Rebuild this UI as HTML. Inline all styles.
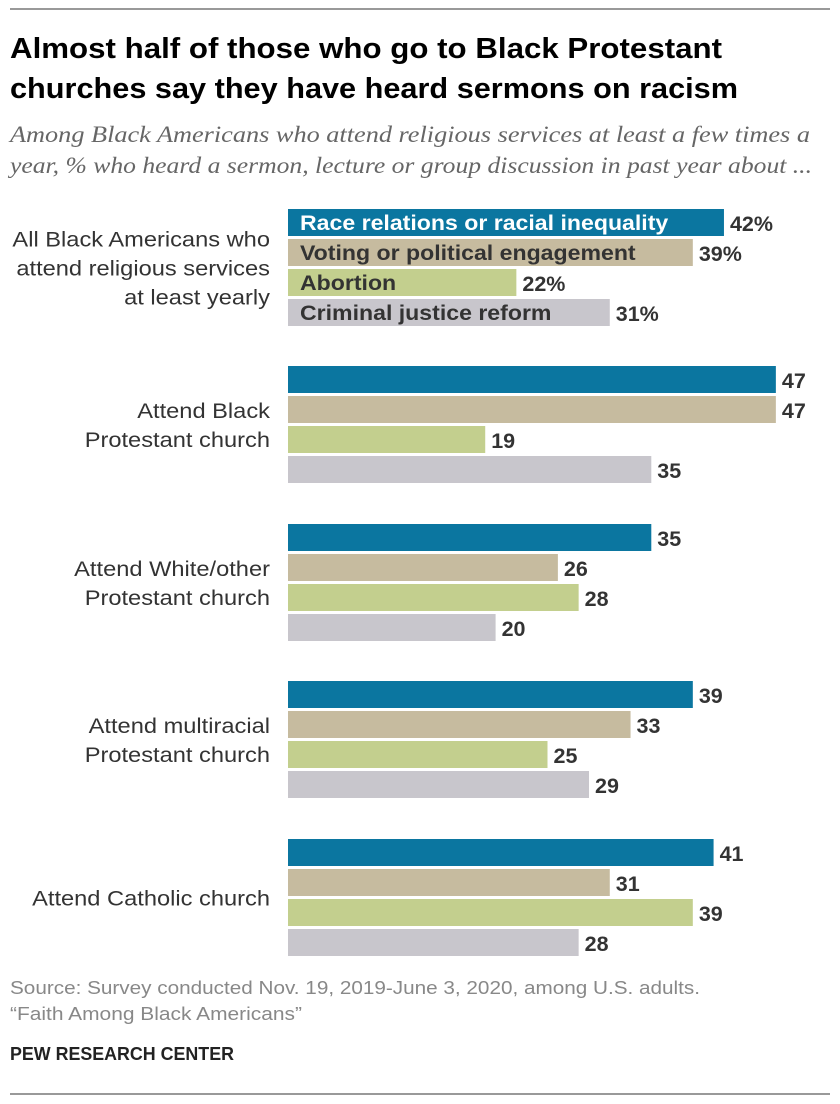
<!DOCTYPE html>
<html><head><meta charset="utf-8"><style>
body{margin:0;background:#fff;width:840px;height:1104px;overflow:hidden;font-family:"Liberation Sans",sans-serif;position:relative}
.t{position:absolute;left:0;top:0}
</style></head><body>
<svg width="840" height="1104" class="t" id="svg">
<line x1="10" y1="9" x2="830" y2="9" stroke="#333" stroke-width="1"/>
<text x="10" y="58" font-size="29" font-weight="bold" fill="#000" textLength="712" lengthAdjust="spacingAndGlyphs">Almost half of those who go to Black Protestant</text>
<text x="10" y="98" font-size="29" font-weight="bold" fill="#000" textLength="728" lengthAdjust="spacingAndGlyphs">churches say they have heard sermons on racism</text>
<text x="10" y="142" font-size="23" font-style="italic" fill="#666" font-family="Liberation Serif" textLength="800" lengthAdjust="spacingAndGlyphs">Among Black Americans who attend religious services at least a few times a</text>
<text x="10" y="173" font-size="23" font-style="italic" fill="#666" font-family="Liberation Serif" textLength="802" lengthAdjust="spacingAndGlyphs">year, % who heard a sermon, lecture or group discussion in past year about ...</text>
<g id="bars"></g>
<text x="10" y="994" font-size="18" fill="#888" textLength="690" lengthAdjust="spacingAndGlyphs">Source: Survey conducted Nov. 19, 2019-June 3, 2020, among U.S. adults.</text>
<text x="10" y="1020" font-size="18" fill="#888" textLength="292" lengthAdjust="spacingAndGlyphs">“Faith Among Black Americans”</text>
<text x="10" y="1060" font-size="18" font-weight="bold" fill="#222" textLength="224" lengthAdjust="spacingAndGlyphs">PEW RESEARCH CENTER</text>
<line x1="10" y1="1094" x2="830" y2="1094" stroke="#333" stroke-width="1"/>
</svg>
<script>
const groups=[["All Black Americans who","attend religious services","at least yearly"],["Attend Black","Protestant church"],["Attend White/other","Protestant church"],["Attend multiracial","Protestant church"],["Attend Catholic church"]];
const series=["Race relations or racial inequality","Voting or political engagement","Abortion","Criminal justice reform"];
const race=[42,47,35,39,41];
const voting=[39,47,26,33,31];
const abortion=[22,19,28,25,39];
const criminal=[31,35,20,29,28];
const colors=["#0b76a0","#c6bb9f","#c3cf8e","#c8c6cc"];
const vals=[race,voting,abortion,criminal];
const groupTop=[209,366,524,681,839];
const x0=288,scale=10.38,bh=27,step=30;
const xs=v=>v*scale;
const g=document.getElementById('bars');
const NS="http://www.w3.org/2000/svg";
function mk(tag,a){const e=document.createElementNS(NS,tag);for(const k in a)e.setAttribute(k,a[k]);g.appendChild(e);return e;}
groups.forEach((lines,gi)=>{
  const top=groupTop[gi];
  const mid=top+(4*step-3)/2;
  const lh=29;
  lines.forEach((l,li)=>{
    const t=mk('text',{x:270,y:mid+(li-(lines.length-1)/2)*lh+8,'font-size':21.5,fill:'#333','text-anchor':'end','transform':'translate(270,0) scale(1.1,1) translate(-270,0)'});
    t.textContent=l;
    
    
  });
  vals.forEach((arr,si)=>{
    const y=top+si*step, w=xs(arr[gi]);
    const r=mk('rect',{x:x0,y:y,width:w,height:bh,fill:colors[si]});
    
    
    if(gi===0){
      const s=mk('text',{x:x0+12,y:y+21,'font-size':21,'font-weight':'bold',fill:si===0?'#fff':'#333','transform':'translate(300,0) scale(1.1,1) translate(-300,0)'});
      s.textContent=series[si];
      
      
    }
    const v=mk('text',{x:x0+w+6,y:y+22,'font-size':21.5,'font-weight':'bold',fill:'#333'});
    v.textContent=arr[gi]+(gi===0?'%':'');
    
    
  });
});
</script>
</body></html>
